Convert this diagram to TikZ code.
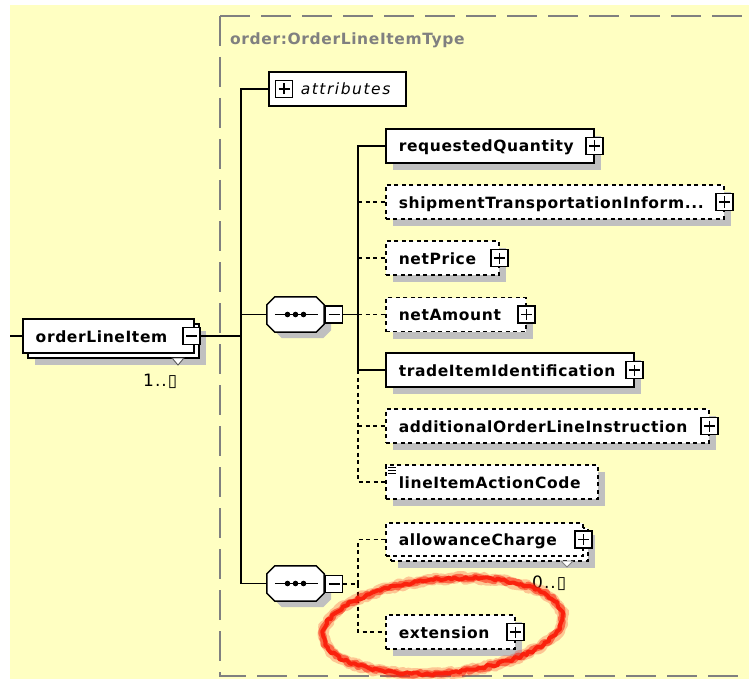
\documentclass[tikz,border=0pt]{standalone}
\usepackage{fontspec}
\setmainfont{DejaVu Sans}
\newfontfamily\lblfont[LetterSpace=4]{DejaVu Sans}
\newfontfamily\attfont[LetterSpace=10]{DejaVu Sans}
\newfontfamily\occfont[LetterSpace=6]{DejaVu Sans}
\usetikzlibrary{shadows,calc,decorations.pathmorphing}
\definecolor{bgyellow}{RGB}{255,255,194}
\definecolor{shadowgray}{RGB}{192,192,192}
\definecolor{framegray}{RGB}{128,128,128}
\definecolor{ringred}{RGB}{250,30,10}
\newcommand\boxtxt[3]{\makebox[#1pt][l]{\hspace*{#2pt}#3}}
\newcommand\octo[1]{%
  \fill[shadowgray] ($(#1.north west)+(15,6)$) -- ($(#1.north east)+(-1,6)$) -- ($(#1.north east)+(7,14)$) -- ($(#1.south east)+(7,-2)$) -- ($(#1.south east)+(-1,6)$) -- ($(#1.south west)+(15,6)$) -- ($(#1.south west)+(7,-2)$) -- ($(#1.north west)+(7,14)$) -- cycle;
  \filldraw[fill=white, line width=1.5pt] ($(#1.north west)+(8,0)$) -- ($(#1.north east)+(-8,0)$) -- ($(#1.north east)+(0,8)$) -- ($(#1.south east)+(0,-8)$) -- ($(#1.south east)+(-8,0)$) -- ($(#1.south west)+(8,0)$) -- ($(#1.south west)+(0,-8)$) -- ($(#1.north west)+(0,8)$) -- cycle;
  \draw[line width=1.5pt] ($(#1.west)+(8,0)$) -- ($(#1.east)+(-6,0)$);
  \foreach \dx in {-8,0,8} \fill ($(#1.center)+(\dx,0)$) circle (2.8pt);
}
\tikzset{
  conn/.style={line width=1.5pt, draw=black},
  dconn/.style={conn, dash pattern=on 4pt off 3.5pt},
  elem/.style={draw=black, line width=1.5pt, fill=white, minimum height=34pt, inner sep=0pt,
    text height=12pt, text depth=0pt, font=\lblfont\bfseries\fontsize{15.5}{18}\selectfont},
  optelem/.style={elem, dash pattern=on 4pt off 3.5pt},
  shad/.style={drop shadow={shadow xshift=7pt, shadow yshift=-7pt, fill=shadowgray, opacity=1}},
  plusbox/.style={draw=black, line width=1.2pt, fill=white, minimum size=17pt, inner sep=0pt,
    path picture={\draw[line width=1.2pt] ([xshift=3pt]path picture bounding box.west) -- ([xshift=-3pt]path picture bounding box.east)
      ([yshift=3pt]path picture bounding box.south) -- ([yshift=-3pt]path picture bounding box.north);}},
  minusbox/.style={draw=black, line width=1.2pt, fill=white, minimum size=17pt, inner sep=0pt,
    path picture={\draw[line width=1.2pt] ([xshift=3pt]path picture bounding box.west) -- ([xshift=-3pt]path picture bounding box.east);}},
  seqspot/.style={draw=none, minimum width=57pt, minimum height=35pt, inner sep=0pt},
  occ/.style={font=\occfont\fontsize{17}{20}\selectfont, inner sep=0pt, anchor=base west},
  marker/.style={fill=white, draw=black!70, line width=0.8pt},
  redring/.style={draw=ringred, line cap=round, line join=round,
    decorate, decoration={random steps, segment length=3pt, amplitude=1.6pt}},
}
\begin{document}
\begin{tikzpicture}[x=1pt,y=-1pt]
\useasboundingbox (0,0) rectangle (749,679);
\fill[white] (0,0) rectangle (749,679);
\fill[bgyellow] (10,5) rectangle (749,679);
% type frame
\draw[framegray, line width=1.6pt, dash pattern=on 30pt off 11pt] (220,16) -- (749,16);
\draw[framegray, line width=1.6pt, dash pattern=on 30pt off 11pt] (220,16) -- (220,676) -- (749,676);
\node[anchor=base west, inner sep=0pt, text=framegray, font=\lblfont\bfseries\fontsize{15.5}{18}\selectfont] (tname) at (230,45) {order:OrderLineItemType};

% root element
\node[elem, shad, anchor=west] (olb) at (27,341) {\boxtxt{171}{0}{}};
\node[elem, anchor=west] (ol) at (22,336) {\boxtxt{171}{13}{orderLineItem}};
\node[minusbox] (olm) at (191.5,336) {};
\filldraw[marker] (172,358) -- (184,358) -- (178,365) -- cycle;
\node[occ] (olocc) at (143,386) {1..▯};

% attributes
\node[elem, anchor=west, font=\attfont\itshape\fontsize{15.5}{18}\selectfont] (at) at (268,89) {\boxtxt{137}{32}{attributes}};
\node[plusbox] (atp) at ($(at.west)+(16,0)$) {};

% sequences
\node[seqspot] (s1) at (295.5,314.5) {};
\octo{s1}
\node[minusbox] (s1m) at (334,314.5) {};
\node[seqspot] (s2) at (295.5,583.5) {};
\octo{s2}
\node[minusbox] (s2m) at (334,584) {};

% children of sequence 1
\node[elem, shad, anchor=west] (rq) at (385,146) {\boxtxt{208}{13}{requestedQuantity}};
\node[plusbox] (rqp) at (rq.east) {};
\node[optelem, shad, anchor=west] (sh) at (385,202) {\boxtxt{338}{13}{shipmentTransportationInform...}};
\node[plusbox] (shp) at (sh.east) {};
\node[optelem, shad, anchor=west] (np) at (385,258) {\boxtxt{113}{13}{netPrice}};
\node[plusbox] (npp) at (np.east) {};
\node[optelem, shad, anchor=west] (na) at (385,314.5) {\boxtxt{140}{13}{netAmount}};
\node[plusbox] (nap) at (na.east) {};
\node[elem, shad, anchor=west] (ti) at (385,370) {\boxtxt{248}{13}{tradeItemIdentification}};
\node[plusbox] (tip) at (ti.east) {};
\node[optelem, shad, anchor=west] (ad) at (385,426) {\boxtxt{323}{13}{additionalOrderLineInstruction}};
\node[plusbox] (adp) at (ad.east) {};
\node[optelem, shad, anchor=west] (la) at (385,482) {\boxtxt{212}{13}{lineItemActionCode}};
\draw[line width=0.9pt] (388,467) -- (396,467) (388,470) -- (396,470) (388,473) -- (396,473);

% children of sequence 2
\node[optelem, shad, anchor=west, minimum height=33pt] (acb) at (390,544.5) {\boxtxt{197}{0}{}};
\node[optelem, anchor=west, minimum height=33pt] (ac) at (385,539.5) {\boxtxt{197}{13}{allowanceCharge}};
\node[plusbox] (acp) at (ac.east) {};
\filldraw[marker, draw=black!50] (561,561) -- (573,561) -- (567,567) -- cycle;
\node[occ] (acocc) at (532,588) {0..▯};
\node[optelem, shad, anchor=west] (ex) at (385,632) {\boxtxt{129}{13}{extension}};
\node[plusbox] (exp) at (ex.east) {};

% connectors
\coordinate (lft) at (10,336);
\coordinate (m) at (241,336);
\coordinate (b1) at (358,314.5);
\coordinate (b2) at (358,584);
\draw[conn] (lft) -- (ol.west);
\draw[conn] (olm.east) -- (m);
\draw[conn] (m) |- (at.west);
\draw[conn] (m) |- (s1.west);
\draw[conn] (m) |- (s2.west);
\draw[conn] (s1m.east) -- (b1);
\draw[conn] (b1) |- (rq.west);
\draw[conn] (b1) |- (ti.west);
\draw[dconn] (sh.west -| b1) -- (sh.west);
\draw[dconn] (np.west -| b1) -- (np.west);
\draw[dconn] (b1) -- (na.west);
\draw[dconn] (ti.west -| b1) |- (la.west);
\draw[dconn] (ad.west -| b1) -- (ad.west);
\draw[dconn] (s2m.east) -- (b2);
\draw[dconn] (b2) |- (ac.west);
\draw[dconn] (b2) |- (ex.west);

% red hand-drawn ring
\begin{scope}[rotate around={5:(443,626)}]
\draw[redring, line width=11pt, opacity=0.25] (443,626) ellipse [x radius=120, y radius=47];
\draw[redring, line width=7pt, opacity=0.55] (443,626) ellipse [x radius=120, y radius=47];
\draw[redring, line width=4pt, opacity=0.95] (443,626) ellipse [x radius=120, y radius=47];
\end{scope}
\end{tikzpicture}
\end{document}
